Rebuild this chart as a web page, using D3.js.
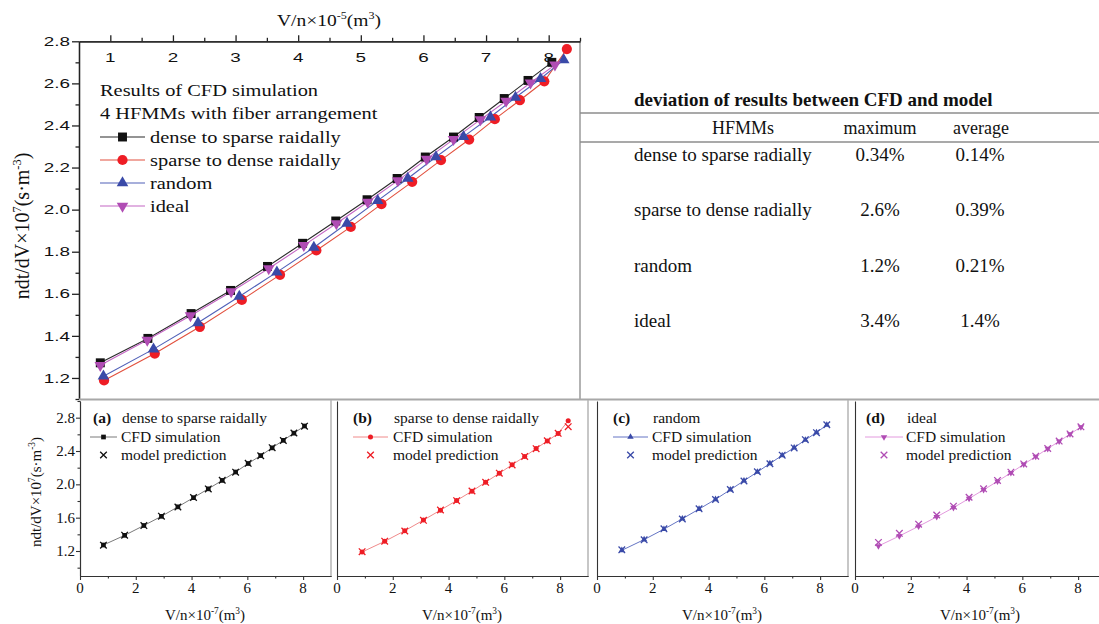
<!DOCTYPE html>
<html>
<head>
<meta charset="utf-8">
<script src="https://cdn.jsdelivr.net/npm/d3@7"></script>
<style>
  body { margin: 0; background: #fff; }
  svg { display: block; }
</style>
</head>
<body>
<script>
//----------------------------------------------------------- DATA
// V/n (x) and ndt/dV (y) for the four fibre arrangements, CFD simulation
var xDense  = [0.84, 1.60, 2.29, 2.92, 3.51, 4.07, 4.60, 5.10, 5.58, 6.03, 6.48, 6.89, 7.29, 7.67, 8.05];
var yDense  = [1.272, 1.388, 1.506, 1.616, 1.730, 1.840, 1.946, 2.047, 2.148, 2.250, 2.345, 2.438, 2.528, 2.614, 2.700];
var xSparse = [0.90, 1.71, 2.43, 3.10, 3.71, 4.29, 4.84, 5.33, 5.82, 6.28, 6.73, 7.14, 7.54, 7.93, 8.29];
var ySparse = [1.188, 1.316, 1.443, 1.571, 1.690, 1.806, 1.918, 2.026, 2.132, 2.235, 2.333, 2.430, 2.520, 2.610, 2.763];
var xRandom = [0.89, 1.69, 2.40, 3.06, 3.66, 4.25, 4.78, 5.27, 5.75, 6.20, 6.64, 7.07, 7.47, 7.87, 8.24];
var yRandom = [1.208, 1.337, 1.462, 1.587, 1.703, 1.820, 1.935, 2.043, 2.148, 2.250, 2.347, 2.440, 2.533, 2.622, 2.712];
var xIdeal  = [0.84, 1.59, 2.28, 2.93, 3.53, 4.09, 4.61, 5.11, 5.59, 6.05, 6.48, 6.91, 7.32, 7.71, 8.10];
var yIdeal  = [1.260, 1.380, 1.496, 1.610, 1.720, 1.830, 1.934, 2.036, 2.138, 2.240, 2.334, 2.428, 2.516, 2.603, 2.688];

// model prediction at the same V/n
var mDense  = [1.270, 1.390, 1.505, 1.618, 1.728, 1.842, 1.945, 2.049, 2.146, 2.252, 2.343, 2.440, 2.526, 2.616, 2.698];
var mSparse = [1.192, 1.318, 1.440, 1.568, 1.692, 1.804, 1.920, 2.024, 2.134, 2.233, 2.335, 2.428, 2.523, 2.612, 2.692];
var mRandom = [1.214, 1.334, 1.466, 1.584, 1.706, 1.818, 1.938, 2.040, 2.150, 2.247, 2.350, 2.437, 2.536, 2.620, 2.715];
var mIdeal  = [1.303, 1.412, 1.522, 1.632, 1.738, 1.845, 1.946, 2.047, 2.146, 2.245, 2.338, 2.431, 2.519, 2.605, 2.690];

var seriesNames = ["dense to sparse raidally", "sparse to dense raidally", "random", "ideal"];
var panelTags   = ["(a)", "(b)", "(c)", "(d)"];

var mainXTicks  = [1, 2, 3, 4, 5, 6, 7, 8];
var mainXMinor  = [1.5, 2.5, 3.5, 4.5, 5.5, 6.5, 7.5, 8.5];
var mainYTicks  = [1.2, 1.4, 1.6, 1.8, 2.0, 2.2, 2.4, 2.6, 2.8];
var mainYMinor  = [1.1, 1.3, 1.5, 1.7, 1.9, 2.1, 2.3, 2.5, 2.7];
var panXTicks   = [0, 2, 4, 6, 8];
var panXMinor   = [1, 3, 5, 7];
var panYTicks   = [1.2, 1.6, 2.0, 2.4, 2.8];
var panYMinor   = [1.0, 1.4, 1.8, 2.2, 2.6, 3.0];

var tableTitle  = "deviation of results between CFD and model";
var tableHeads  = ["HFMMs", "maximum", "average"];
var tableRows   = ["dense to sparse radially", "sparse to dense radially", "random", "ideal"];
var tableMax    = ["0.34%", "2.6%", "1.2%", "3.4%"];
var tableAvg    = ["0.14%", "0.39%", "0.21%", "1.4%"];

//----------------------------------------------------------- SETUP
var serif = "'Liberation Serif', 'Times New Roman', serif",
	sans  = "'Liberation Sans', Arial, sans-serif";

var svg = d3.select("body").append("svg")
	.attr("width", 1099).attr("height", 624);
svg.append("rect").attr("width", 1099).attr("height", 624).attr("fill", "#fff");

// text with optional superscripts: parts = ["V/n×10", ["-5"], "(m", ["3"], ")"]
function addText(g, x, y, parts, o) {
	o = o || {};
	var t = g.append("text")
		.attr("transform", "translate(" + x + "," + y + ")" + (o.rot ? " rotate(" + o.rot + ")" : "") + " scale(" + (o.sx || 1) + ",1)")
		.attr("text-anchor", o.anchor || "start")
		.attr("font-family", o.family || serif)
		.attr("font-size", o.size)
		.attr("font-weight", o.bold ? "bold" : null)
		.attr("fill", o.fill || "#111");
	if (typeof parts === "string") parts = [parts];
	var up = 0;
	parts.forEach(function (p) {
		var sup = Array.isArray(p);
		var s = t.append("tspan").text(sup ? p[0] : p);
		if (sup) { s.attr("font-size", o.size * 0.62).attr("dy", -o.size * 0.42); up = o.size * 0.42; }
		else if (up) { s.attr("dy", up); up = 0; }
	});
	return t;
}

var series = [
	{ x: xDense,  y: yDense,  m: mDense,  color: "#111111", line: "#2a2a2a", pline: "#7a7a7a", shape: d3.symbolSquare,   size: 80, psize: 22, rot: 0 },
	{ x: xSparse, y: ySparse, m: mSparse, color: "#ee1d25", line: "#e2503e", pline: "#f08a8a", shape: d3.symbolCircle,   size: 82, psize: 20, rot: 0 },
	{ x: xRandom, y: yRandom, m: mRandom, color: "#3a4aa8", line: "#5060b8", pline: "#6575c4", shape: d3.symbolTriangle, size: 58, psize: 18, rot: 0 },
	{ x: xIdeal,  y: yIdeal,  m: mIdeal,  color: "#b04cb4", line: "#c466c4", pline: "#e39ade", shape: d3.symbolTriangle, size: 58, psize: 18, rot: 180 }
];

function marker(g, s, cx, cy, size, fill) {
	g.append("path")
		.attr("d", d3.symbol(s.shape, size)())
		.attr("transform", "translate(" + cx + "," + cy + ") rotate(" + s.rot + ")")
		.attr("fill", fill || s.color);
}

function cross(g, s, cx, cy) {
	g.append("path").attr("d", "M-3.3,-3.3L3.3,3.3M-3.3,3.3L3.3,-3.3")
		.attr("transform", "translate(" + cx + "," + cy + ")")
		.attr("stroke", s.color).attr("stroke-width", 1.3).attr("fill", "none");
}

//----------------------------------------------------------- MAIN CHART
var x = d3.scaleLinear().domain([0.5, 8.5]).range([79, 580]);
var y = d3.scaleLinear().domain([1.1, 2.8]).range([399, 41.3]);

var main = svg.append("g");

// grey frame lines (right side of the plot, bottom separator)
main.append("line").attr("x1", 580).attr("x2", 580).attr("y1", 41).attr("y2", 399)
	.attr("stroke", "#9a9a9a").attr("stroke-width", 1.5);
svg.append("line").attr("x1", 79).attr("x2", 1099).attr("y1", 399.5).attr("y2", 399.5)
	.attr("stroke", "#a8a8a8").attr("stroke-width", 2);

main.append("g").attr("transform", "translate(0,41.3)")
	.call(d3.axisTop(x).tickValues(mainXTicks).tickSize(6).tickSizeOuter(0).tickFormat(""));
main.append("g").attr("transform", "translate(0,41.3)")
	.call(d3.axisTop(x).tickValues(mainXMinor).tickSize(3.5).tickSizeOuter(0).tickFormat(""));
main.append("g").attr("transform", "translate(79,0)")
	.call(d3.axisLeft(y).tickValues(mainYTicks).tickSize(7).tickSizeOuter(0).tickFormat(""));
main.append("g").attr("transform", "translate(79,0)")
	.call(d3.axisLeft(y).tickValues(mainYMinor).tickSize(3.5).tickSizeOuter(0).tickFormat(""));
main.selectAll(".domain, .tick line").attr("stroke", "#222").attr("stroke-width", 1.3);

mainXTicks.forEach(function (v) {
	addText(main, x(v), 62, String(v), { family: sans, size: 13, sx: 1.45, anchor: "middle" });
});
mainYTicks.forEach(function (v) {
	addText(main, 70, y(v) + 4.7, v.toFixed(1), { family: sans, size: 13, sx: 1.45, anchor: "end" });
});

addText(main, 329, 26, ["V/n×10", ["-5"], "(m", ["3"], ")"], { size: 17, sx: 1.15, anchor: "middle" });
addText(main, 29, 226, ["ndt/dV×10", ["7"], "(s·m", ["-3"], ")"], { size: 20, rot: -90, anchor: "middle" });

// series lines then markers, in legend order
series.forEach(function (s) {
	var pts = s.x.map(function (v, i) { return [x(v), y(s.y[i])]; });
	main.append("path").attr("d", d3.line()(pts))
		.attr("fill", "none").attr("stroke", s.line).attr("stroke-width", 1.1);
});
series.forEach(function (s) {
	s.x.forEach(function (v, i) { marker(main, s, x(v), y(s.y[i]), s.size); });
});

// legend
addText(main, 100, 96, "Results of CFD simulation", { size: 17, sx: 1.2 });
addText(main, 100, 119, "4 HFMMs with fiber arrangement", { size: 17, sx: 1.2 });
series.forEach(function (s, i) {
	var ly = 137 + i * 23;
	main.append("line").attr("x1", 100).attr("x2", 145).attr("y1", ly).attr("y2", ly)
		.attr("stroke", s.line).attr("stroke-width", 1.1);
	marker(main, s, 122.5, ly, s.size);
	addText(main, 150, ly + 6, seriesNames[i], { size: 17, sx: 1.2 });
});

//----------------------------------------------------------- TABLE
var tab = svg.append("g");
[113, 142].forEach(function (ly) {
	tab.append("line").attr("x1", 580).attr("x2", 1099).attr("y1", ly).attr("y2", ly)
		.attr("stroke", "#8c8c8c").attr("stroke-width", 1.5);
});
addText(tab, 634, 106, tableTitle, { size: 19, bold: true });
addText(tab, 743, 134, tableHeads[0], { size: 18, anchor: "middle" });
addText(tab, 880, 134, tableHeads[1], { size: 18, anchor: "middle" });
addText(tab, 981, 134, tableHeads[2], { size: 18, anchor: "middle" });
tableRows.forEach(function (r, i) {
	var ry = 161 + i * 55.3;
	addText(tab, 634, ry, r, { size: 19 });
	addText(tab, 880, ry, tableMax[i], { size: 19, anchor: "middle" });
	addText(tab, 980, ry, tableAvg[i], { size: 19, anchor: "middle" });
});

//----------------------------------------------------------- PANELS (a)-(d)
var panels = [
	{ left: 80,  tag: 13, txt: 42, l1: 10, l2: 37 },
	{ left: 337, tag: 16, txt: 57, l1: 16, l2: 51 },
	{ left: 597, tag: 16, txt: 56, l1: 16, l2: 51 },
	{ left: 855, tag: 11, txt: 52, l1: 10, l2: 48 }
];

panels.forEach(function (p, k) {
	var s = series[k];
	var g = svg.append("g");
	var px = d3.scaleLinear().domain([0, 9]).range([p.left, p.left + 251]);
	var py = d3.scaleLinear().domain([0.9, 3.0]).range([576, 401]);

	// frame
	g.append("line").attr("x1", p.left + 251).attr("x2", p.left + 251).attr("y1", 400).attr("y2", 576)
		.attr("stroke", "#b4b4b4").attr("stroke-width", 1.5);

	g.append("g").attr("transform", "translate(0,576)")
		.call(d3.axisBottom(px).tickValues(panXTicks).tickSize(4).tickSizeOuter(0).tickFormat(""));
	g.append("g").attr("transform", "translate(0,576)")
		.call(d3.axisBottom(px).tickValues(panXMinor).tickSize(2.5).tickSizeOuter(0).tickFormat(""));
	if (k === 0) {
		g.append("g").attr("transform", "translate(" + p.left + ",0)")
			.call(d3.axisLeft(py).tickValues(panYTicks).tickSize(4).tickSizeOuter(0).tickFormat(""));
		g.append("g").attr("transform", "translate(" + p.left + ",0)")
			.call(d3.axisLeft(py).tickValues(panYMinor).tickSize(2.5).tickSizeOuter(0).tickFormat(""));
		panYTicks.forEach(function (v) {
			addText(g, p.left - 5, py(v) + 5, v.toFixed(1), { size: 15, anchor: "end" });
		});
		addText(g, 41, 492, ["ndt/dV×10", ["7"], "(s·m", ["-3"], ")"], { size: 15, rot: -90, anchor: "middle" });
	} else {
		g.append("g").attr("transform", "translate(" + p.left + ",0)")
			.call(d3.axisLeft(py).tickValues([]).tickSizeOuter(0));
	}
	g.selectAll(".domain, .tick line").attr("stroke", "#333").attr("stroke-width", 1.1);

	panXTicks.forEach(function (v) {
		addText(g, px(v), 593, String(v), { size: 15, anchor: "middle" });
	});
	addText(g, p.left + 125, 620, ["V/n×10", ["-7"], "(m", ["3"], ")"], { size: 15, anchor: "middle" });

	// CFD line, CFD markers, model crosses
	var pts = s.x.map(function (v, i) { return [px(v), py(s.y[i])]; });
	g.append("path").attr("d", d3.line()(pts))
		.attr("fill", "none").attr("stroke", s.pline).attr("stroke-width", 1);
	s.x.forEach(function (v, i) { marker(g, s, px(v), py(s.y[i]), s.psize); });
	s.x.forEach(function (v, i) { cross(g, s, px(v), py(s.m[i])); });

	// legend
	addText(g, p.left + p.tag, 423, panelTags[k], { size: 15.5, bold: true });
	addText(g, p.left + p.txt, 423, seriesNames[k], { size: 15.5 });
	var lc = p.left + (p.l1 + p.l2) / 2;
	g.append("line").attr("x1", p.left + p.l1).attr("x2", p.left + p.l2).attr("y1", 437).attr("y2", 437)
		.attr("stroke", s.pline).attr("stroke-width", 1);
	marker(g, s, lc, 437, s.psize);
	addText(g, p.left + p.txt - 1, 442, "CFD simulation", { size: 15.5 });
	cross(g, s, lc, 455);
	addText(g, p.left + p.txt - 1, 460, "model prediction", { size: 15.5 });
});
</script>
</body>
</html>
